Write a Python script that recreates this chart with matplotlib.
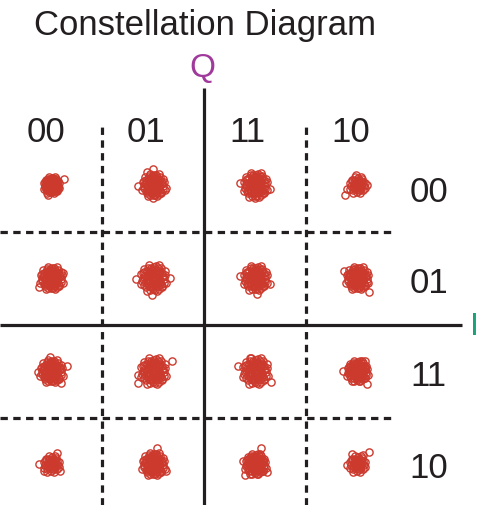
import matplotlib
matplotlib.use("Agg")
import matplotlib.pyplot as plt
import numpy as np

plt.rcParams['font.family'] = ['Liberation Sans', 'DejaVu Sans']

# symbol grid (I, Q) and gray-code labels
levels_i = [-3, -1, 1, 3]
levels_q = [3, 1, -1, -3]
col_labels = ["00", "01", "11", "10"]
row_labels = ["00", "01", "11", "10"]

# hand-read cloud shape (unit disk), shared core of every cluster
core = [(0, 0), (0.3, 0.1), (-0.3, 0.15), (0.1, 0.4), (-0.1, -0.4),
        (0.45, -0.25), (-0.45, -0.2), (0.2, -0.6), (-0.25, 0.55), (0.6, 0.35),
        (-0.6, 0.4), (0.7, -0.05), (-0.7, -0.05), (0.05, 0.75), (-0.05, -0.75),
        (0.5, 0.65), (-0.5, -0.6), (0.6, -0.55), (-0.65, 0.6), (0.15, -0.15),
        (-0.15, 0.2), (0.35, 0.4), (-0.35, -0.35), (0.8, 0.2), (-0.8, 0.25),
        (0.25, -0.85), (-0.3, 0.85), (0.85, -0.35), (-0.85, -0.4), (0.4, 0.85),
        (-0.45, -0.85), (0.0, 0.25), (0.25, -0.35), (-0.2, -0.1)]
# dense middle of the clouds
inner = [(0.1, 0.1), (-0.1, 0.05), (0.2, -0.05), (-0.2, -0.25), (0.05, -0.25),
         (0.35, 0.25), (-0.35, 0.3), (0.4, -0.1), (-0.4, 0.0), (0.15, 0.55),
         (-0.1, 0.5), (0.3, -0.5), (-0.3, -0.55), (0.55, 0.1), (-0.55, 0.15),
         (0.5, -0.4), (-0.5, -0.35), (0.25, 0.3), (-0.25, 0.35), (0.0, -0.55),
         (0.45, 0.45), (-0.45, 0.5), (0.1, -0.4), (-0.15, -0.6), (0.65, 0.15),
         (-0.65, 0.1), (0.3, 0.65), (-0.35, 0.7), (0.4, -0.7), (-0.6, -0.45),
         (0.7, -0.3), (-0.7, 0.35), (0.55, -0.6), (0.2, 0.8), (-0.15, 0.7),
         (-0.25, -0.8), (0.1, -0.8), (0.75, 0.45), (-0.75, -0.2), (0.0, 0.6)]

# per cluster (row, col): core radius in px, dense or sparse, outliers in px (dx right, dy down)
spread = [[9, 13, 14, 9],
          [13, 15, 14, 13],
          [13, 15, 15, 12],
          [9, 13, 12, 9]]
dense = [[True, True, True, False],
         [True, True, True, True],
         [True, True, True, True],
         [False, True, True, False]]
outliers = [
    [[(13, -6), (-3, 10), (6, 6)],
     [(-6, -13), (0, -16), (-15, 1), (13, 3), (0, 13)],
     [(-15, -2), (15, 4), (0, 13)],
     [(-12, 10), (-1, -10), (10, 0), (-10, 4)]],
    [[(-13, 9), (12, -5)],
     [(-1, 17), (17, 0), (-17, 1)],
     [(-15, -2), (2, 16), (15, 6)],
     [(12, 14), (-13, -7)]],
    [[(-14, 1), (16, -5), (10, 12), (-1, -14)],
     [(19, -10), (-15, 4), (-15, 12)],
     [(-17, -5), (16, 11), (-5, -13)],
     [(-14, 0), (10, 13), (8, -10)]],
    [[(-13, 0), (6, -11), (9, 7), (-8, 7)],
     [(4, -16), (13, 7)],
     [(6, -16), (12, 8), (-10, 11), (-12, -3)],
     [(-5, -10), (12, -12), (-10, 1), (6, -9)]],
]

px_x = 51.0   # pixels per unit along I
px_y = 46.5   # pixels per unit along Q

red = '#cc3a2e'
ink = '#231f20'

fig = plt.figure(figsize=(4.9, 5.05), dpi=100)
ax = fig.add_axes([0, 0, 1, 1])
ax.set_xlim(-4.01, 5.6)
ax.set_ylim(-3.88, 6.98)
ax.axis('off')

# axes and decision boundaries
ax.plot([-4.01, 5.05], [0, 0], color=ink, lw=2.3, solid_capstyle='butt')
ax.plot([0, 0], [-3.88, 5.09], color=ink, lw=2.3, solid_capstyle='butt')
for b in [-2, 2]:
    ax.plot([b, b], [-3.88, 4.29], color=ink, lw=2.3, dashes=(2.3, 1.7))
    ax.plot([-4.01, 3.7], [b, b], color=ink, lw=2.3, dashes=(2.3, 1.7))

# received symbols
for r, q in enumerate(levels_q):
    for c, i in enumerate(levels_i):
        s = spread[r][c]
        shape = core + inner if dense[r][c] else core + inner[:12]
        pts = [(dx * s, -dy * s) for dx, dy in shape]
        pts += [(dx, dy) for dx, dy in outliers[r][c]]
        xs = [i + dx / px_x for dx, dy in pts]
        ys = [q - dy / px_y for dx, dy in pts]
        ax.plot(xs, ys, 'o', ms=5.2, mfc='none', mec=red, mew=1.0)

# labels
col_x = [-3.11, -1.15, 0.85, 2.86]
for x, t in zip(col_x, col_labels):
    ax.text(x, 3.92, t, fontsize=25, ha='center', va='baseline', color=ink)
row_base = [2.63, 0.68, -1.32, -3.30]
for y, t in zip(row_base, row_labels):
    ax.text(4.4, y, t, fontsize=25, ha='center', va='baseline', color=ink)

ax.text(0.01, 6.23, "Constellation Diagram", fontsize=25, ha='center', va='baseline', color=ink)
ax.text(-0.05, 5.32, "Q", fontsize=24, ha='center', va='baseline', color='#a0399c')
ax.text(5.3, -0.23, "I", fontsize=23, ha='center', va='baseline', color='#1aa37a')

plt.savefig("out.png", dpi=100)
